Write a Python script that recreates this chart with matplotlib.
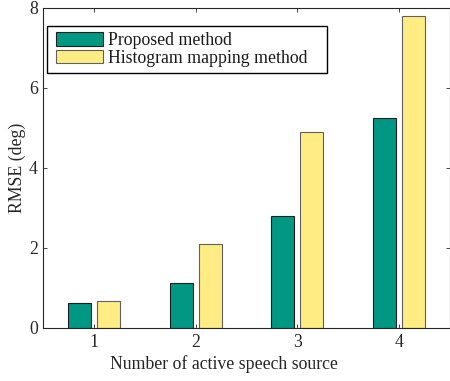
import matplotlib
matplotlib.use("Agg")
import matplotlib.pyplot as plt
from matplotlib.patches import Rectangle
import numpy as np

plt.rcParams['font.family'] = ['Liberation Serif', 'DejaVu Serif']

categories = [1, 2, 3, 4]
proposed = [0.62, 1.12, 2.79, 5.24]
histogram = [0.67, 2.10, 4.91, 7.81]
series_labels = ["Proposed method", "Histogram mapping method"]
colors = ["#009882", "#FFEC82"]

W, H = 450, 381
fig = plt.figure(figsize=(W/100, H/100), dpi=100)
ax_l, ax_r, ax_t, ax_b = 43.3, 449.5, 8, 328
ax = fig.add_axes([ax_l/W, (H-ax_b)/H, (ax_r-ax_l)/W, (ax_b-ax_t)/H])

x = np.array(categories, dtype=float)
w = 0.228
off = 0.143
ax.bar(x - off, proposed, width=w, color=colors[0], edgecolor="#1f1f1f", linewidth=0.8, label=series_labels[0], zorder=2)
ax.bar(x + off, histogram, width=w, color=colors[1], edgecolor="#606060", linewidth=0.8, label=series_labels[1], zorder=2)

ax.set_xlim(0.5, 4.5)
ax.set_ylim(0, 8)
ax.set_xticks(categories)
ax.set_yticks([0, 2, 4, 6, 8])
fs = 12.8
ax.tick_params(direction='in', length=3, width=0.6, labelsize=fs, top=True, right=True, colors='#262626', pad=4)
for s in ax.spines.values():
    s.set_linewidth(0.8)
    s.set_color('#262626')

ax.set_xlabel("Number of active speech source", fontsize=fs, color='#262626', labelpad=6)
ax.xaxis.set_label_coords((223.5-ax_l)/(ax_r-ax_l), -0.085)
ax.set_ylabel("RMSE (deg)", fontsize=fs, color='#262626', labelpad=2)

# legend (entries without frame), frame drawn as rectangle in pixel coords
px = fs*100/72
leg = fig.legend(loc='upper left', bbox_to_anchor=(56/W, 1-32.0/H), bbox_transform=fig.transFigure,
                 fontsize=fs, frameon=False,
                 handlelength=47/px, handleheight=14.5/px, handletextpad=0.3,
                 borderpad=0, labelspacing=0.03, borderaxespad=0)
for t in leg.get_texts():
    t.set_color('#1a1a1a')
fr_l, fr_t, fr_r, fr_b = 46.7, 26.3, 327, 72.5
fig.patches.append(Rectangle((fr_l/W, 1-fr_b/H), (fr_r-fr_l)/W, (fr_b-fr_t)/H,
                             transform=fig.transFigure, facecolor='white', edgecolor='black',
                             linewidth=1.0, zorder=3))
leg.set_zorder(4)

fig.savefig("out.png", dpi=100)
